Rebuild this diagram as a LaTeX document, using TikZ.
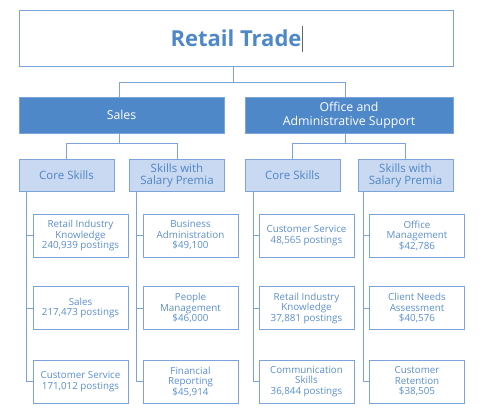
\documentclass[tikz,border=0pt]{standalone}
\usepackage{fontspec}
\setmainfont{Open Sans}
\definecolor{dblue}{HTML}{4F88C8}
\definecolor{lblue}{HTML}{C9D9F1}
\definecolor{lborder}{HTML}{7DA4DA}
\definecolor{ltext}{HTML}{5A8ECF}
\definecolor{ctext}{HTML}{4F86C6}
\begin{document}
\begin{tikzpicture}[x=1pt,y=-1pt,
  every node/.style={inner sep=0pt, align=center},
  topbox/.style={draw=lborder, line width=1pt, minimum width=434pt, minimum height=56pt, text=dblue, font=\bfseries\fontsize{22}{26}\selectfont},
  catbox/.style={draw=lborder, fill=dblue, line width=1pt, minimum height=36pt, text=white, font=\fontsize{12.3}{14}\selectfont},
  skillbox/.style={draw=lborder, fill=lblue, line width=1pt, minimum width=95pt, minimum height=32pt, text=ctext, font=\fontsize{11.5}{12.5}\selectfont},
  leafbox/.style={draw=lborder, line width=0.8pt, minimum width=95pt, minimum height=43pt, text=ltext, font=\fontsize{9.8}{10.5}\selectfont},
  conn/.style={draw=lborder, line width=1pt}]
\useasboundingbox (0,0) rectangle (484,416);

\node[topbox] (top) at (236,38) {Retail Trade};
\draw[gray!80!black, line width=0.8pt] (302,26) -- (302,52);

\node[catbox, minimum width=205pt] (sales) at (121.5,115) {Sales};
\node[catbox, minimum width=208pt] (office) at (349,115) {Office and\\Administrative Support};

\node[skillbox] (coreL) at (66.5,175.5) {Core Skills};
\node[skillbox] (salL) at (177,175.5) {Skills with\\Salary Premia};
\node[skillbox] (coreR) at (292.5,175.5) {Core Skills};
\node[skillbox] (salR) at (405.5,175.5) {Skills with\\Salary Premia};

\node[leafbox] (l1) at (80.5,235.5) {Retail Industry\\Knowledge\\240,939 postings};
\node[leafbox] (l2) at (80.5,308) {Sales\\217,473 postings};
\node[leafbox] (l3) at (80.5,381.5) {Customer Service\\171,012 postings};

\node[leafbox] (m1) at (190.5,235.5) {Business\\Administration\\\$49,100};
\node[leafbox] (m2) at (190.5,308) {People\\Management\\\$46,000};
\node[leafbox] (m3) at (190.5,381.5) {Financial\\Reporting\\\$45,914};

\node[leafbox] (n1) at (306.5,235.5) {Customer Service\\48,565 postings};
\node[leafbox] (n2) at (306.5,308) {Retail Industry\\Knowledge\\37,881 postings};
\node[leafbox] (n3) at (306.5,381.5) {Communication\\Skills\\36,844 postings};

\node[leafbox] (r1) at (417,235.5) {Office\\Management\\\$42,786};
\node[leafbox] (r2) at (417,308) {Client Needs\\Assessment\\\$40,576};
\node[leafbox] (r3) at (417,381.5) {Customer\\Retention\\\$38,505};

\coordinate (ts) at ([xshift=-3pt]top.south);
\coordinate (tj) at ([yshift=-16pt]ts);
\draw[conn] (ts) -- (tj);
\draw[conn] (tj) -| ([xshift=-2.5pt]sales.north);
\draw[conn] (tj) -| ([xshift=-4pt]office.north);

\coordinate (ss) at ([xshift=-2.5pt]sales.south);
\coordinate (sj) at ([yshift=-10pt]ss);
\draw[conn] (ss) -- (sj);
\draw[conn] (sj) -| (coreL.north);
\draw[conn] (sj) -| (salL.north);

\coordinate (os) at ([xshift=-4pt]office.south);
\coordinate (oj) at ([yshift=-10pt]os);
\draw[conn] (os) -- (oj);
\draw[conn] (oj) -| (coreR.north);
\draw[conn] (oj) -| (salR.north);

\coordinate (cl) at ([xshift=8pt]coreL.south west);
\draw[conn] (cl) |- (l1.west);
\draw[conn] (cl) |- (l2.west);
\draw[conn] (cl) |- (l3.west);

\coordinate (sl) at ([xshift=7pt]salL.south west);
\draw[conn] (sl) |- (m1.west);
\draw[conn] (sl) |- (m2.west);
\draw[conn] (sl) |- (m3.west);

\coordinate (cr) at ([xshift=9pt]coreR.south west);
\draw[conn] (cr) |- (n1.west);
\draw[conn] (cr) |- (n2.west);
\draw[conn] (cr) |- (n3.west);

\coordinate (sr) at ([xshift=6pt]salR.south west);
\draw[conn] (sr) |- (r1.west);
\draw[conn] (sr) |- (r2.west);
\draw[conn] (sr) |- (r3.west);
\end{tikzpicture}
\end{document}
